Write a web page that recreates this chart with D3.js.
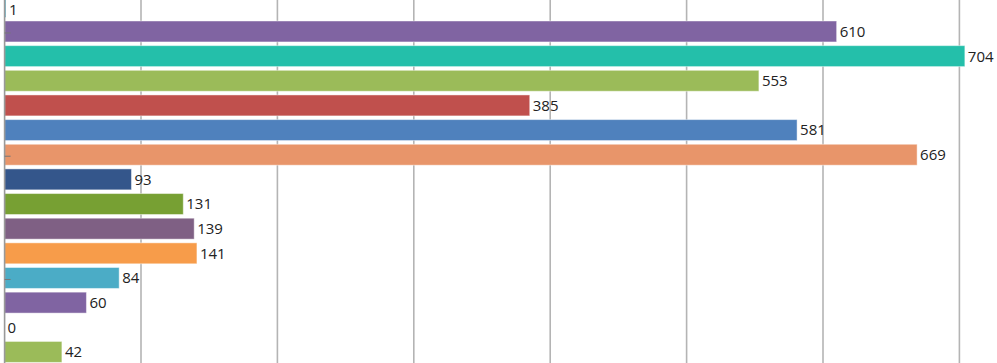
<!DOCTYPE html>
<html><head><meta charset="utf-8">
<script src="https://cdn.jsdelivr.net/npm/d3@7"></script>
<style>html,body{margin:0;padding:0;background:#fff;overflow:hidden}</style>
</head><body>
<svg id="c" width="997" height="363"></svg>
<script>
const categories = ["c0","c1","c2","c3","c4","c5","c6","c7","c8","c9","c10","c11","c12","c13","c14"];
const values = [1,610,704,553,385,581,669,93,131,139,141,84,60,0,42];
const colors = ["#4bacc6","#8064a2","#24bfaa","#9bbb59","#c0504d","#4f81bd","#e8956a","#34568b","#77a033","#7f6084","#f79c4a","#4bacc6","#8064a2","#9bbb59","#9bbb59"];
const gridTicks = [100,200,300,400,500,600,700];
const axisTickCats = ["c1","c6","c11"];

const svg = d3.select("#c");
const x = d3.scaleLinear().domain([0,700]).range([4.6,959.4]);
const y = d3.scaleBand().domain(categories).range([-5.5,364.25]).paddingInner(0.15).paddingOuter(0.075);

svg.append("g").selectAll("line").data(gridTicks).join("line")
  .attr("x1",d=>x(d)).attr("x2",d=>x(d)).attr("y1",0).attr("y2",363)
  .attr("stroke","#b4b4b4").attr("stroke-width",1.6);

const data = categories.map((c,i)=>({c, v:values[i], col:colors[i]}));

svg.append("g").selectAll("rect").data(data.filter(d=>d.v>0)).join("rect")
  .attr("x",x(0)).attr("y",d=>y(d.c)).attr("width",d=>x(d.v)-x(0)).attr("height",y.bandwidth())
  .attr("fill",d=>d.col).attr("stroke","rgba(255,255,255,0.45)").attr("stroke-width",1);

svg.append("line").attr("x1",x(0)).attr("x2",x(0)).attr("y1",0).attr("y2",363)
  .attr("stroke","#999").attr("stroke-width",1.6);

svg.append("g").selectAll("line").data(axisTickCats).join("line")
  .attr("x1",x(0)).attr("x2",x(0)+6).attr("y1",d=>y(d)+y.bandwidth()/2+1.5).attr("y2",d=>y(d)+y.bandwidth()/2+1.5)
  .attr("stroke","#777").attr("stroke-width",1);

svg.append("g").selectAll("text").data(data).join("text")
  .attr("x",d=>x(d.v)+3).attr("y",d=>Math.max(y(d.c)+y.bandwidth()/2, 9.5))
  .attr("dy","0.36em")
  .attr("font-family","'Open Sans', 'Noto Sans', sans-serif").attr("font-size",15)
  .attr("fill","#222").text(d=>d.v);
</script>
</body></html>
